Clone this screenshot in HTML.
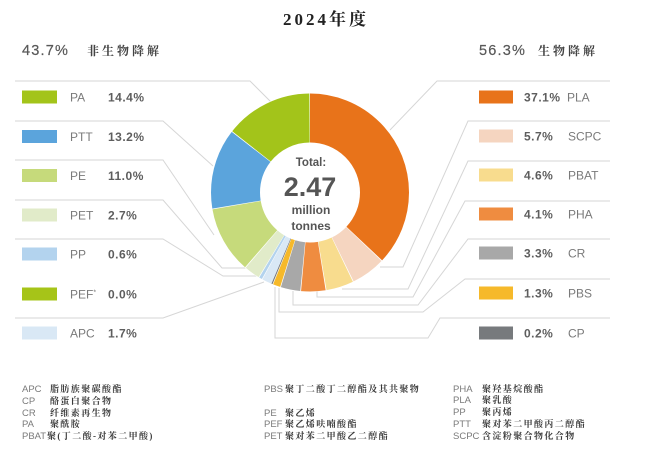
<!DOCTYPE html>
<html>
<head>
<meta charset="utf-8">
<style>
  html, body { margin:0; padding:0; background:#ffffff; }
  body { width:650px; height:454px; overflow:hidden; }
  svg { display:block; }
  .sans { font-family: "Liberation Sans", "Noto Sans CJK SC", sans-serif; }
  .serif { font-family: "Liberation Serif", "Noto Serif CJK SC", serif; }
  .nm { font-family: "Liberation Sans", sans-serif; font-size:12px; fill:#7a7a7a; }
  .vl { font-family: "Liberation Sans", sans-serif; font-size:12px; fill:#5e5e5e; font-weight:bold; letter-spacing:0.5px; }
  .gl { font-family: "Liberation Sans", sans-serif; font-size:9.5px; fill:#7a7a7a; }
  .gc { font-family: "Liberation Serif", "Noto Serif CJK SC", serif; font-size:9px; fill:#3a3a3a; letter-spacing:1.4px; font-weight:bold; }
  .ln { fill:none; stroke:#d6d6d6; stroke-width:1; }
</style>
</head>
<body>
<svg width="650" height="454" viewBox="0 0 650 454" xmlns="http://www.w3.org/2000/svg">
  <!-- Title -->
  <text x="326" y="25" text-anchor="middle" class="serif" font-size="17" font-weight="bold" fill="#222" letter-spacing="3">2024年度</text>

  <!-- Headers -->
  <text x="22" y="55" class="sans" font-size="14.5" fill="#585858" letter-spacing="1.2" stroke="#585858" stroke-width="0.2">43.7%</text>
  <text x="87" y="55" class="serif" font-size="12" fill="#444" font-weight="bold" letter-spacing="3">非生物降解</text>
  <text x="479" y="55" class="sans" font-size="14.5" fill="#585858" letter-spacing="1.2" stroke="#585858" stroke-width="0.2">56.3%</text>
  <text x="538" y="55" class="serif" font-size="12" fill="#444" font-weight="bold" letter-spacing="3">生物降解</text>

  <!-- Left connector lines -->
  <path class="ln" d="M15 81 H250 L272 103"/>
  <path class="ln" d="M15 121 H163 L213 166"/>
  <path class="ln" d="M15 160 H163 L214 235"/>
  <path class="ln" d="M15 200 H163 L222 268 H247"/>
  <path class="ln" d="M15 239 H163 L223 276 H262"/>
  <path class="ln" d="M15 318 H163 L264 282"/>

  <!-- Right connector lines -->
  <path class="ln" d="M610 81 H437 L390 130"/>
  <path class="ln" d="M610 121 H468 L403 267 H380"/>
  <path class="ln" d="M610 161 H468 L408 289 H342"/>
  <path class="ln" d="M610 201 H465 L413 297 H317 V291"/>
  <path class="ln" d="M610 239 H468 L418 305 H293 V291"/>
  <path class="ln" d="M610 279 H465 L423 312 H279 V288"/>
  <path class="ln" d="M610 318 H440 L428 338 H275 V287"/>

  <!-- Donut: r_mid=74.5, width=49, C=468.1 -->
  <g transform="rotate(-90 310 192.5)" fill="none" stroke-width="49">
    <circle cx="310" cy="192.5" r="74.5" stroke="#ffffff" stroke-width="50"/>
    <circle cx="310" cy="192.5" r="74.5" stroke="#e8731a" stroke-dasharray="173.2 468.1" stroke-dashoffset="0"/>
    <circle cx="310" cy="192.5" r="74.5" stroke="#f5d5c0" stroke-dasharray="26.1 468.1" stroke-dashoffset="-173.84"/>
    <circle cx="310" cy="192.5" r="74.5" stroke="#f8dc8e" stroke-dasharray="20.9 468.1" stroke-dashoffset="-200.55"/>
    <circle cx="310" cy="192.5" r="74.5" stroke="#ef8c40" stroke-dasharray="18.6 468.1" stroke-dashoffset="-222.10"/>
    <circle cx="310" cy="192.5" r="74.5" stroke="#a8a8a8" stroke-dasharray="14.9 468.1" stroke-dashoffset="-241.31"/>
    <circle cx="310" cy="192.5" r="74.5" stroke="#f6b92a" stroke-dasharray="5.6 468.1" stroke-dashoffset="-256.77"/>
    <circle cx="310" cy="192.5" r="74.5" stroke="#777a7d" stroke-dasharray="0.9 468.1" stroke-dashoffset="-262.87"/>
    <circle cx="310" cy="192.5" r="74.5" stroke="#d9e8f5" stroke-dasharray="7.4 468.1" stroke-dashoffset="-263.90"/>
    <circle cx="310" cy="192.5" r="74.5" stroke="#b3d3ee" stroke-dasharray="2.3 468.1" stroke-dashoffset="-271.77"/>
    <circle cx="310" cy="192.5" r="74.5" stroke="#e1ebc9" stroke-dasharray="12.0 468.1" stroke-dashoffset="-274.58"/>
    <circle cx="310" cy="192.5" r="74.5" stroke="#c6da7b" stroke-dasharray="50.9 468.1" stroke-dashoffset="-287.23"/>
    <circle cx="310" cy="192.5" r="74.5" stroke="#5ba4dc" stroke-dasharray="61.2 468.1" stroke-dashoffset="-338.77"/>
    <circle cx="310" cy="192.5" r="74.5" stroke="#a3c41a" stroke-dasharray="66.8 468.1" stroke-dashoffset="-400.62"/>
  </g>

  <!-- Center text -->
  <text x="311" y="166" text-anchor="middle" class="sans" font-size="11.5" font-weight="bold" fill="#555">Total:</text>
  <text x="310" y="196" text-anchor="middle" class="sans" font-size="27" font-weight="bold" fill="#555">2.47</text>
  <text x="311" y="214" text-anchor="middle" class="sans" font-size="12" font-weight="bold" fill="#555">million</text>
  <text x="311" y="230" text-anchor="middle" class="sans" font-size="12" font-weight="bold" fill="#555">tonnes</text>

  <!-- Left legend -->
  <rect x="22" y="90.5" width="35" height="13" fill="#a3c41a"/>
  <text x="70" y="101.5" class="nm">PA</text><text x="108" y="101.5" class="vl">14.4%</text>
  <rect x="22" y="130" width="35" height="13" fill="#5ba4dc"/>
  <text x="70" y="141" class="nm">PTT</text><text x="108" y="141" class="vl">13.2%</text>
  <rect x="22" y="169" width="35" height="13" fill="#c6da7b"/>
  <text x="70" y="180" class="nm">PE</text><text x="108" y="180" class="vl">11.0%</text>
  <rect x="22" y="208.5" width="35" height="13" fill="#e1ebc9"/>
  <text x="70" y="219.5" class="nm">PET</text><text x="108" y="219.5" class="vl">2.7%</text>
  <rect x="22" y="247.5" width="35" height="13" fill="#b3d3ee"/>
  <text x="70" y="258.5" class="nm">PP</text><text x="108" y="258.5" class="vl">0.6%</text>
  <rect x="22" y="287.5" width="35" height="13" fill="#a6c418"/>
  <text x="70" y="298.5" class="nm">PEF<tspan font-size="7" dy="-4">*</tspan></text><text x="108" y="298.5" class="vl">0.0%</text>
  <rect x="22" y="326.5" width="35" height="13" fill="#d9e8f5"/>
  <text x="70" y="337.5" class="nm">APC</text><text x="108" y="337.5" class="vl">1.7%</text>

  <!-- Right legend -->
  <rect x="479" y="90.5" width="34" height="13" fill="#e8731a"/>
  <text x="524" y="101.5" class="vl">37.1%</text><text x="567" y="101.5" class="nm">PLA</text>
  <rect x="479" y="129.5" width="34" height="13" fill="#f5d5c0"/>
  <text x="524" y="140.5" class="vl">5.7%</text><text x="568" y="140.5" class="nm">SCPC</text>
  <rect x="479" y="168.5" width="34" height="13" fill="#f8dc8e"/>
  <text x="524" y="179.5" class="vl">4.6%</text><text x="568" y="179.5" class="nm">PBAT</text>
  <rect x="479" y="207.5" width="34" height="13" fill="#ef8c40"/>
  <text x="524" y="218.5" class="vl">4.1%</text><text x="568" y="218.5" class="nm">PHA</text>
  <rect x="479" y="246.5" width="34" height="13" fill="#a8a8a8"/>
  <text x="524" y="257.5" class="vl">3.3%</text><text x="568" y="257.5" class="nm">CR</text>
  <rect x="479" y="286.5" width="34" height="13" fill="#f6b92a"/>
  <text x="524" y="297.5" class="vl">1.3%</text><text x="568" y="297.5" class="nm">PBS</text>
  <rect x="479" y="326.5" width="34" height="13" fill="#777a7d"/>
  <text x="524" y="337.5" class="vl">0.2%</text><text x="568" y="337.5" class="nm">CP</text>

  <!-- Glossary left -->
  <text x="22" y="392" class="gl">APC</text><text x="50" y="392" class="gc">脂肪族聚碳酸酯</text>
  <text x="22" y="404" class="gl">CP</text><text x="50" y="404" class="gc">酪蛋白聚合物</text>
  <text x="22" y="416" class="gl">CR</text><text x="50" y="416" class="gc">纤维素再生物</text>
  <text x="22" y="427" class="gl">PA</text><text x="50" y="427" class="gc">聚酰胺</text>
  <text x="22" y="439" class="gl">PBAT</text><text x="47" y="439" class="gc">聚(丁二酸-对苯二甲酸)</text>

  <!-- Glossary middle -->
  <text x="264" y="392" class="gl">PBS</text><text x="285" y="392" class="gc">聚丁二酸丁二醇酯及其共聚物</text>
  <text x="264" y="416" class="gl">PE</text><text x="285" y="416" class="gc">聚乙烯</text>
  <text x="264" y="427" class="gl">PEF</text><text x="285" y="427" class="gc">聚乙烯呋喃酸酯</text>
  <text x="264" y="439" class="gl">PET</text><text x="285" y="439" class="gc">聚对苯二甲酸乙二醇酯</text>

  <!-- Glossary right -->
  <text x="453" y="392" class="gl">PHA</text><text x="482" y="392" class="gc">聚羟基烷酸酯</text>
  <text x="453" y="403" class="gl">PLA</text><text x="482" y="403" class="gc">聚乳酸</text>
  <text x="453" y="415" class="gl">PP</text><text x="482" y="415" class="gc">聚丙烯</text>
  <text x="453" y="427" class="gl">PTT</text><text x="482" y="427" class="gc">聚对苯二甲酸丙二醇酯</text>
  <text x="453" y="439" class="gl">SCPC</text><text x="482" y="439" class="gc">含淀粉聚合物化合物</text>
</svg>
</body>
</html>
